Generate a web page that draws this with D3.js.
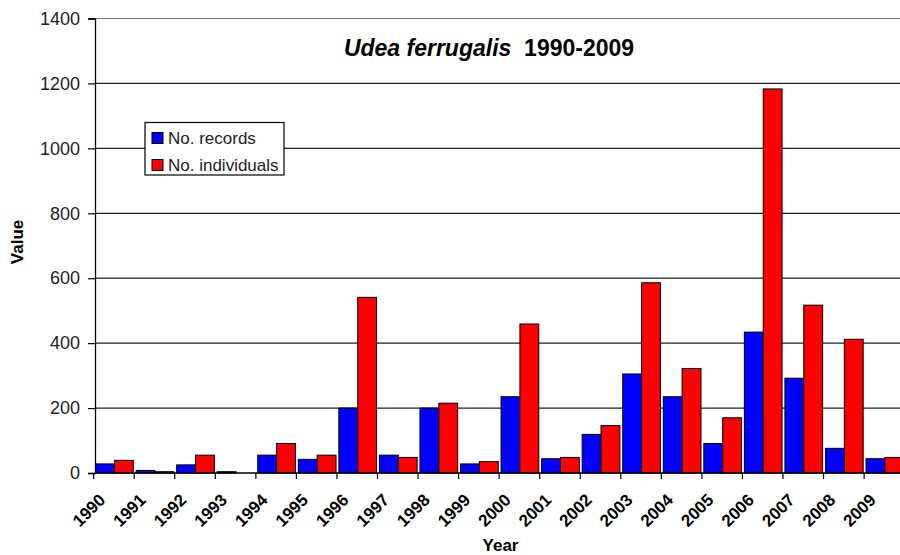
<!DOCTYPE html>
<html>
<head>
<meta charset="utf-8">
<script src="https://cdn.jsdelivr.net/npm/d3@7"></script>
<style>
  html, body { margin: 0; padding: 0; background: #fff; }
  svg { display: block; font-family: Arial, "Liberation Sans", sans-serif; }
</style>
</head>
<body>
<svg id="chart" width="900" height="555"></svg>
<script>
// Udea ferrugalis yearly counts, 1990-2009
const years = ["1990","1991","1992","1993","1994","1995","1996","1997","1998","1999",
               "2000","2001","2002","2003","2004","2005","2006","2007","2008","2009"];
const records = [28, 8, 25, 4, 55, 42, 200, 55, 200, 28,
                 235, 44, 119, 305, 235, 91, 434, 292, 76, 44];
const individuals = [39, 4, 55, 0, 91, 55, 541, 48, 215, 35,
                     459, 48, 146, 586, 322, 170, 1183, 517, 412, 48];
const seriesNames = ["No. records", "No. individuals"];
const seriesColors = ["#0000ff", "#ff0000"];
const yTicks = [0, 200, 400, 600, 800, 1000, 1200, 1400];

(function () {
const rows = years.map((y, i) => ({ year: y, values: [records[i], individuals[i]] }));

const svg = d3.select("#chart");
const plotLeft = 95, plotRight = 906, plotTop = 18.5, plotBottom = 473;

const x0 = d3.scaleBand().domain(years).range([plotLeft, plotRight])
  .paddingInner(0.07).paddingOuter(0.035).align(0.2);
const x1 = d3.scaleBand().domain([0, 1]).range([0, x0.bandwidth()]);
const y = d3.scaleLinear().domain([0, 1400]).range([plotBottom, plotTop]);

// horizontal gridlines
svg.append("g").selectAll("line").data(yTicks.filter(d => d > 0)).join("line")
  .attr("x1", plotLeft).attr("x2", 900)
  .attr("y1", d => y(d)).attr("y2", d => y(d))
  .attr("stroke", d => d === 1400 ? "#777" : "#222")
  .attr("stroke-width", 1.2);

// bars
const groups = svg.append("g").selectAll("g").data(rows).join("g")
  .attr("transform", d => `translate(${x0(d.year)},0)`);
groups.selectAll("rect").data(d => d.values.map((v, k) => ({ v, k }))).join("rect")
  .attr("x", d => x1(d.k))
  .attr("width", x1.bandwidth())
  .attr("y", d => y(d.v))
  .attr("height", d => plotBottom - y(d.v))
  .attr("fill", d => seriesColors[d.k])
  .attr("stroke", "#000")
  .attr("stroke-width", 1);

// y axis
const yAxis = d3.axisLeft(y).tickValues(yTicks).tickFormat(d3.format("d"))
  .tickSize(7).tickPadding(8);
const gy = svg.append("g").attr("transform", `translate(${plotLeft},0)`).call(yAxis);
gy.select(".domain").attr("stroke", "#000").attr("stroke-width", 1.3);
gy.selectAll(".tick line").attr("stroke", "#000").attr("stroke-width", 1.2);
gy.selectAll(".tick text").attr("font-size", 18).attr("fill", "#222")
  .attr("font-family", "Arial, 'Liberation Sans', sans-serif");

// x axis: baseline, ticks at category boundaries, rotated year labels
const step = x0.step();
const start = x0(years[0]) - x0.paddingInner() * step / 2 - 0.5;
const boundaries = d3.range(years.length + 1).map(i => start + i * step);
svg.append("line").attr("x1", plotLeft).attr("x2", 900)
  .attr("y1", plotBottom).attr("y2", plotBottom)
  .attr("stroke", "#000").attr("stroke-width", 1.3);
svg.append("g").selectAll("line").data(boundaries).join("line")
  .attr("x1", d => d).attr("x2", d => d)
  .attr("y1", plotBottom).attr("y2", plotBottom + 6)
  .attr("stroke", "#000").attr("stroke-width", 1.2);
svg.append("g").selectAll("text").data(years).join("text")
  .attr("transform", d => `translate(${x0(d) + x0.bandwidth() / 2 - 17},${plotBottom + 19}) rotate(-45)`)
  .attr("text-anchor", "end")
  .attr("dy", "0.75em")
  .attr("font-size", 17).attr("font-weight", "bold").attr("fill", "#000")
  .text(d => d);

// axis titles
svg.append("text")
  .attr("transform", `translate(23,242) rotate(-90)`)
  .attr("text-anchor", "middle")
  .attr("font-size", 17).attr("font-weight", "bold")
  .text("Value");
svg.append("text")
  .attr("x", (plotLeft + plotRight) / 2).attr("y", 551)
  .attr("text-anchor", "middle")
  .attr("font-size", 17).attr("font-weight", "bold")
  .text("Year");

// chart title
const title = svg.append("text")
  .attr("x", 489).attr("y", 56)
  .attr("text-anchor", "middle")
  .attr("font-size", 23).attr("font-weight", "bold");
title.append("tspan").attr("font-style", "italic").text("Udea ferrugalis");
title.append("tspan").text("\u00a0 1990-2009");

// legend
const legend = svg.append("g").attr("transform", "translate(145,122.5)");
legend.append("rect").attr("width", 139).attr("height", 52.5)
  .attr("fill", "#fff").attr("stroke", "#000").attr("stroke-width", 1.2);
const items = legend.selectAll("g").data(seriesNames).join("g")
  .attr("transform", (d, i) => `translate(7,${10 + i * 27})`);
items.append("rect").attr("width", 11).attr("height", 11)
  .attr("fill", (d, i) => seriesColors[i]).attr("stroke", "#000").attr("stroke-width", 1);
items.append("text").attr("x", 16).attr("y", 11)
  .attr("font-size", 17).attr("fill", "#222")
  .text(d => d);
})();
</script>
</body>
</html>
